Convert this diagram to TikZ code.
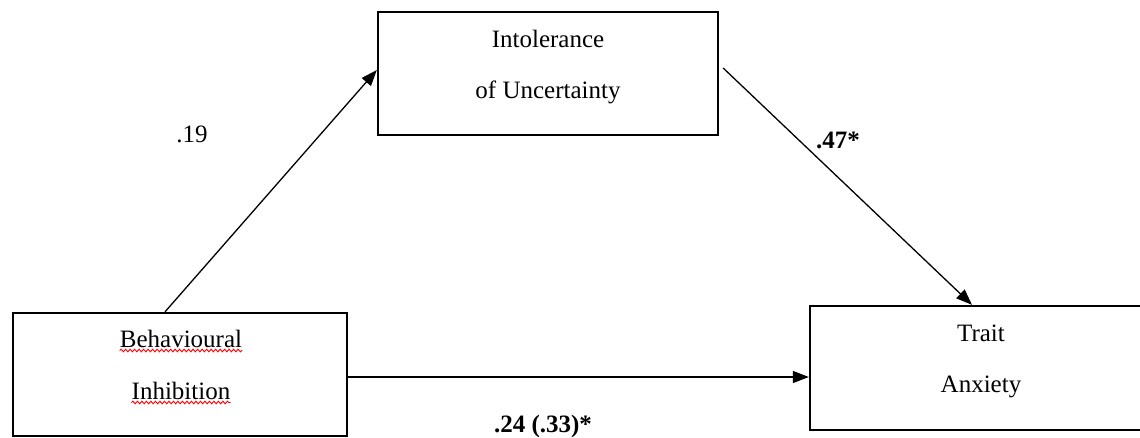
\documentclass[tikz,border=0pt]{standalone}
\usepackage{fontspec}
\setmainfont{Liberation Serif}
\usetikzlibrary{arrows.meta,decorations.pathmorphing,calc}
\begin{document}
\begin{tikzpicture}[x=1pt,y=-1pt,
  box/.style={draw=black,line width=2.3pt,rectangle,minimum width=#1,minimum height=123pt,inner sep=0pt},
  lbl/.style={anchor=base,inner sep=0pt,font=\fontsize{25}{30}\selectfont},
  conn/.style={line width=1.3pt,-{Triangle[length=16pt,width=12pt]}},
  wavy/.style={draw=red,line width=0.9pt,decorate,decoration={snake,amplitude=1.3pt,segment length=4.5pt}}]
\useasboundingbox (0,0) rectangle (1140,437);
\clip (0,0) rectangle (1140,437);
\fill[white] (0,0) rectangle (1140,437);
% boxes
\node[box=340pt] (tb) at (548,73.5) {};
\node[box=334pt] (lb) at (180,374.5) {};
\node[box=340pt,minimum height=124pt] (rb) at (980,368) {};
% box texts
\node[lbl] (t1) at (548,47) {Intolerance};
\node[lbl] (t2) at (548,98) {of Uncertainty};
\node[lbl] (l1) at (181,347) {Behavioural};
\node[lbl] (l2) at (181,399) {Inhibition};
\node[lbl] (r1) at (981,341) {Trait};
\node[lbl] (r2) at (981,392) {Anxiety};
% spell-check underlines
\draw[wavy] (l1.base west) ++(0,3.5) -- ([yshift=-3.5pt]l1.base east);
\draw[wavy] (l2.base west) ++(0,3.5) -- ([yshift=-3.5pt]l2.base east);
% connectors
\draw[conn] ([xshift=-15pt]lb.north) -- ([yshift=3.5pt]tb.west);
\draw[conn] ([xshift=4pt,yshift=5.5pt]tb.east) -- ([xshift=-8pt]rb.north);
\draw[conn] ([yshift=-2.5pt]lb.east) -- ([yshift=-2.5pt]lb.east -| rb.west);
% coefficients
\node[lbl] (c1) at (192,142) {.19};
\node[lbl] (c2) at (838,148) {\bfseries .47*};
\node[lbl] (c3) at (543,432) {\bfseries .24 (.33)*};
\end{tikzpicture}
\end{document}
